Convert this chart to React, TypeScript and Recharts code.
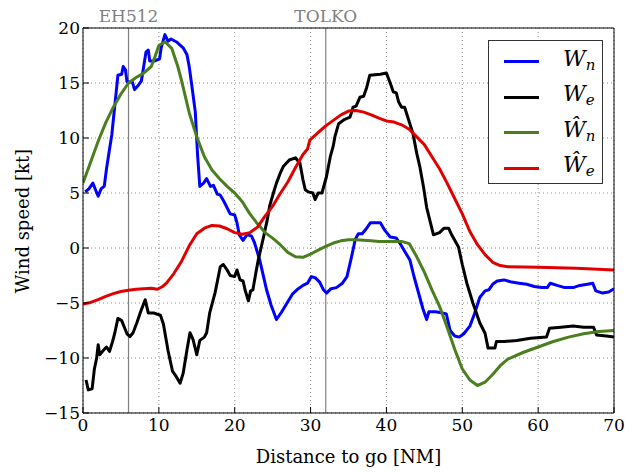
import { CartesianGrid, Label, Legend, Line, LineChart, ReferenceLine, XAxis, YAxis } from "recharts";

// distance to go [NM], wind speed [kt]
const WN: [number, number][] = [
  [0.3, 5.1], [0.8, 5.4], [1.3, 5.9], [1.7, 5.2], [2.0, 4.7], [2.4, 5.4], [2.8, 5.6], [3.1, 7.2], [3.5, 9],
  [3.8, 10.3], [4.2, 13], [4.6, 15.7], [5.1, 15.8], [5.3, 16.5], [5.6, 16.2], [5.8, 15.1], [6.5, 15.1],
  [6.8, 14.4], [7.3, 14.8], [7.7, 15.2], [8.0, 16.5], [8.3, 17.8], [8.6, 18], [8.8, 17], [9.4, 17],
  [10.1, 17.2], [10.3, 18.2], [10.8, 19.4], [11.2, 18.8], [11.6, 19], [12.4, 18.7], [13.2, 18.2],
  [13.7, 17.6], [14.0, 16.5], [14.3, 15], [14.8, 12.4], [15.1, 8.5], [15.4, 5.6], [15.9, 5.9], [16.3, 6.3],
  [16.8, 5.6], [17.2, 5.7], [17.7, 4.9], [18.1, 4.8], [18.6, 4.2], [18.9, 3.8], [19.4, 3.1], [20.0, 3.0],
  [20.3, 2.3], [20.6, 1.2], [21.1, 0.7], [21.6, 1.2], [22.2, 1.1], [22.6, 0.5], [23.3, -1.1], [24.2, -3.8],
  [24.8, -5.2], [25.5, -6.5], [26.2, -5.8], [26.9, -5], [27.6, -4.2], [28.2, -3.8], [29.0, -3.4],
  [29.6, -3.2], [30.1, -2.6], [30.6, -2.7], [31.2, -3.1], [31.7, -3.8], [32.1, -4.1], [32.7, -3.7],
  [33.4, -3.6], [34.2, -3.2], [34.8, -2.6], [35.4, -0.8], [35.9, 0.8], [36.3, 1.3], [36.8, 1.3],
  [37.4, 1.8], [37.9, 2.3], [39.2, 2.3], [39.8, 1.6], [40.5, 1.0], [41.3, 0.9], [41.8, 0.4], [42.4, -0.3],
  [43.1, -1.1], [43.6, -2.5], [44.2, -4], [44.8, -5.5], [45.3, -6.5], [45.6, -5.8], [46.5, -5.8],
  [47.4, -5.9], [47.9, -6.0], [48.4, -7.5], [49.0, -8.0], [49.6, -8.1], [50.2, -7.8], [51.0, -7.1],
  [51.6, -6], [52.3, -4.5], [53.0, -3.9], [53.5, -3.8], [54.0, -3.3], [54.6, -3.0], [55.5, -2.9],
  [56.5, -3.1], [57.5, -3.2], [58.5, -3.3], [59.5, -3.5], [60.5, -3.6], [61.2, -3.6], [61.6, -3.2],
  [62.5, -3.4], [63.5, -3.6], [64.6, -3.6], [65.5, -3.4], [66.5, -3.3], [67.2, -3.2], [67.6, -3.9],
  [68.5, -4.1], [69.3, -4.0], [70, -3.7],
];

const WE: [number, number][] = [
  [0.4, -12], [0.7, -12.9], [1.2, -12.8], [1.5, -11], [1.8, -10], [2.0, -8.8], [2.2, -9.7], [2.7, -9.3],
  [3.1, -9], [3.5, -9.4], [3.9, -8.5], [4.2, -7.7], [4.6, -6.4], [5.1, -6.6], [5.5, -7.3], [5.8, -7.8],
  [6.2, -8.05], [6.6, -7.7], [7.1, -6.8], [7.7, -5.6], [8.2, -4.7], [8.6, -5.9], [9.3, -5.9], [9.7, -6.0],
  [10.2, -6.1], [10.6, -6.9], [11.2, -9.3], [11.8, -11.2], [12.3, -11.7], [12.8, -12.3], [13.2, -11.4],
  [13.7, -9.3], [14.1, -7.7], [14.5, -8.3], [15.0, -9.7], [15.4, -8.4], [16.0, -8.1], [16.3, -7.7],
  [16.7, -5.9], [17.4, -4.1], [18.1, -1.7], [18.5, -1.5], [19.0, -2.0], [19.4, -2.5], [20.0, -2.6],
  [20.3, -2.0], [20.7, -2.9], [21.1, -3.0], [21.4, -3.9], [21.8, -4.8], [22.1, -3.9], [22.4, -3.8],
  [22.8, -2.2], [23.1, -1.1], [23.8, 1.0], [24.3, 2.6], [24.6, 3.8], [25.1, 5.0], [25.5, 5.9], [26.0, 6.8],
  [26.4, 7.4], [27.2, 8.0], [28.0, 8.2], [28.6, 7.7], [29.0, 6.2], [29.3, 5.3], [29.7, 5.1], [30.3, 5.0],
  [30.6, 4.4], [31.0, 5.0], [31.5, 5.0], [32.1, 6.5], [32.6, 8.3], [33.0, 9.3], [33.2, 10.1], [33.7, 11.3],
  [34.5, 11.7], [35.2, 11.9], [35.6, 12.8], [36.0, 12.9], [36.5, 13.7], [37.0, 13.8], [37.4, 14.6],
  [37.8, 15.7], [39.2, 15.8], [40.0, 15.9], [40.5, 15.0], [40.9, 14.2], [41.3, 14.1], [41.6, 13.3],
  [42.0, 12.8], [42.4, 12.8], [42.9, 11.7], [43.5, 10.4], [44.0, 8.6], [44.4, 7.4], [44.9, 5.5], [45.3, 3.7],
  [46.2, 1.2], [47.0, 1.4], [47.6, 1.8], [48.2, 1.8], [48.6, 1.2], [49.5, 0.1], [50.0, -1.5], [50.6, -3.2],
  [51.4, -5], [52.3, -6.8], [53.0, -7.75], [53.4, -9.1], [54.3, -9.1], [54.5, -8.5], [55.5, -8.5],
  [57.2, -8.4], [59, -8.2], [61.1, -8.1], [61.5, -7.3], [63, -7.2], [64.6, -7.1], [66, -7.2], [67.3, -7.2],
  [67.7, -7.9], [69, -8.0], [70, -8.1],
];

const WN_HAT: [number, number][] = [
  [0, 5.9], [1, 7.8], [2, 9.7], [3, 11.4], [4, 12.8], [5, 14], [6, 15], [7, 15.5], [8, 15.9], [9, 16.5],
  [9.5, 17.4], [10, 18.4], [10.8, 18.75], [11.7, 18.15], [12.5, 16.5], [13, 15.2], [14, 12.3], [15, 10.1],
  [16, 8.3], [17, 7.1], [18, 6.3], [19, 5.6], [20, 5], [21, 4.2], [22, 3.1], [23, 2.2], [24, 1.4], [25, 0.9],
  [26, 0.3], [27, -0.4], [28, -0.8], [29, -0.85], [30, -0.55], [31, -0.2], [32, 0.15], [33, 0.45],
  [34, 0.65], [35, 0.75], [36, 0.75], [37, 0.7], [38, 0.65], [39, 0.6], [40, 0.6], [41, 0.6], [42, 0.6],
  [43, 0.4], [44, -0.8], [45, -2.2], [46, -3.8], [47, -5.3], [48, -7.2], [49, -9.2], [50, -11], [51, -12],
  [52, -12.5], [53, -12.2], [54, -11.5], [55, -10.7], [56, -10.1], [58, -9.5], [60, -9], [62, -8.5],
  [64, -8.1], [66, -7.8], [68, -7.6], [70, -7.5],
];

const WE_HAT: [number, number][] = [
  [0, -5.1], [1, -4.95], [2, -4.7], [3, -4.4], [4, -4.15], [5, -3.95], [6, -3.85], [7, -3.75], [8, -3.7],
  [9, -3.65], [9.8, -3.75], [10.5, -3.5], [11, -3.2], [12, -2.3], [13, -1.2], [14, 0.2], [15, 1.3],
  [16, 1.8], [17, 2.05], [18, 2.0], [19, 1.75], [20, 1.4], [21, 1.25], [22, 1.4], [23, 1.9], [24, 2.9],
  [25, 3.8], [26, 4.95], [27, 6], [28, 7.3], [29, 8.5], [29.6, 9.0], [29.9, 9.8], [31, 10.5], [32, 11.1],
  [33, 11.6], [34, 12.1], [35, 12.45], [36, 12.5], [37, 12.35], [38, 12.1], [39, 11.8], [40, 11.55],
  [41, 11.45], [42, 11.2], [43, 10.8], [44, 10.1], [45, 9.4], [46, 8.3], [47, 7.2], [48, 5.9], [49, 4.5],
  [50, 3.1], [51, 1.5], [52, 0.3], [53, -0.6], [54, -1.3], [55, -1.6], [56, -1.7], [60, -1.75],
  [65, -1.85], [70, -2.0],
];

const X_TICKS = [0, 10, 20, 30, 40, 50, 60, 70];
const Y_TICKS = [-15, -10, -5, 0, 5, 10, 15, 20];
const WAYPOINTS = [
  { name: "EH512", at: 6 },
  { name: "TOLKO", at: 32 },
];

const SERIES = [
  { key: "wn", data: WN, color: "#0000ff", base: "W", sub: "n" },
  { key: "we", data: WE, color: "#000000", base: "W", sub: "e" },
  { key: "wnh", data: WN_HAT, color: "#4a7e1f", base: "Ŵ", sub: "n" },
  { key: "weh", data: WE_HAT, color: "#e00000", base: "Ŵ", sub: "e" },
];

const FONT = "DejaVu Serif";
const tickStyle = { fill: "#000", fontSize: 17, fontFamily: FONT };
const fmt = (v: number) => (v < 0 ? `\u2212${Math.abs(v)}` : `${v}`);
const blank = () => "";

function LegendBox() {
  return (
    <div
      style={{
        border: "1.5px solid #333",
        background: "#fff",
        width: 115,
        height: 144,
        boxSizing: "border-box",
        padding: "3px 0 0 0",
        fontFamily: FONT,
      }}
    >
      {SERIES.map((s) => (
        <div key={s.key} style={{ display: "flex", alignItems: "center", height: 35.5 }}>
          <div style={{ width: 35, height: 3, background: s.color, marginLeft: 15, marginRight: 24 }} />
          <span style={{ fontStyle: "italic", fontSize: 22, lineHeight: "24px" }}>
            {s.base}
            <sub style={{ fontSize: 15, verticalAlign: "-4px" }}>{s.sub}</sub>
          </span>
        </div>
      ))}
    </div>
  );
}

export default function App() {
  return (
    <div style={{ position: "absolute", left: 0, top: 0, background: "#fff", fontFamily: FONT }}>
      <LineChart width={625} height={472} margin={{ top: 27, right: 10, bottom: 0, left: 0 }}>
        <CartesianGrid stroke="#8c8c8c" strokeDasharray="1 3" />
        <XAxis
          type="number"
          dataKey="x"
          domain={[0, 70]}
          ticks={X_TICKS}
          height={59}
          tickSize={-6}
          tickMargin={12}
          tick={tickStyle}
          axisLine={{ stroke: "#000" }}
          tickLine={{ stroke: "#000" }}
          allowDataOverflow
        >
          <Label value="Distance to go [NM]" position="insideBottom" offset={9} style={{ ...tickStyle, fontSize: 18 }} />
        </XAxis>
        <XAxis
          xAxisId="top"
          orientation="top"
          type="number"
          domain={[0, 70]}
          ticks={X_TICKS}
          height={1}
          tickSize={-6}
          tickFormatter={blank}
          axisLine={{ stroke: "#000" }}
          tickLine={{ stroke: "#000" }}
        />
        <YAxis
          type="number"
          domain={[-15, 20]}
          ticks={Y_TICKS}
          width={83}
          tickSize={-6}
          tickMargin={9}
          tick={tickStyle}
          tickFormatter={fmt}
          axisLine={{ stroke: "#000" }}
          tickLine={{ stroke: "#000" }}
          allowDataOverflow
        >
          <Label
            content={() => (
              <text
                x={22}
                y={221}
                transform="rotate(-90 22 221)"
                textAnchor="middle"
                dominantBaseline="central"
                fontFamily={FONT}
                fontSize={18}
                fill="#000"
              >
                Wind speed [kt]
              </text>
            )}
          />
        </YAxis>
        <YAxis
          yAxisId="right"
          orientation="right"
          type="number"
          domain={[-15, 20]}
          ticks={Y_TICKS}
          width={1}
          tickSize={-6}
          tickFormatter={blank}
          axisLine={{ stroke: "#000" }}
          tickLine={{ stroke: "#000" }}
        />
        {WAYPOINTS.map((w) => (
          <ReferenceLine
            key={w.name}
            x={w.at}
            stroke="#7f7f7f"
            strokeWidth={1.2}
            label={{ value: w.name, position: "top", fill: "#7f7f7f", fontSize: 17, fontFamily: FONT, offset: 6 }}
          />
        ))}
        {SERIES.map((s) => (
          <Line
            key={s.key}
            data={s.data.map(([x, y]) => ({ x, y }))}
            dataKey="y"
            type="linear"
            stroke={s.color}
            strokeWidth={3}
            strokeLinejoin="round"
            dot={false}
            activeDot={false}
            isAnimationActive={false}
          />
        ))}
        <Legend
          layout="vertical"
          align="center"
          verticalAlign="middle"
          content={() => <LegendBox />}
          wrapperStyle={{ position: "absolute", left: 488, top: 40, width: 115 }}
        />
      </LineChart>
    </div>
  );
}
